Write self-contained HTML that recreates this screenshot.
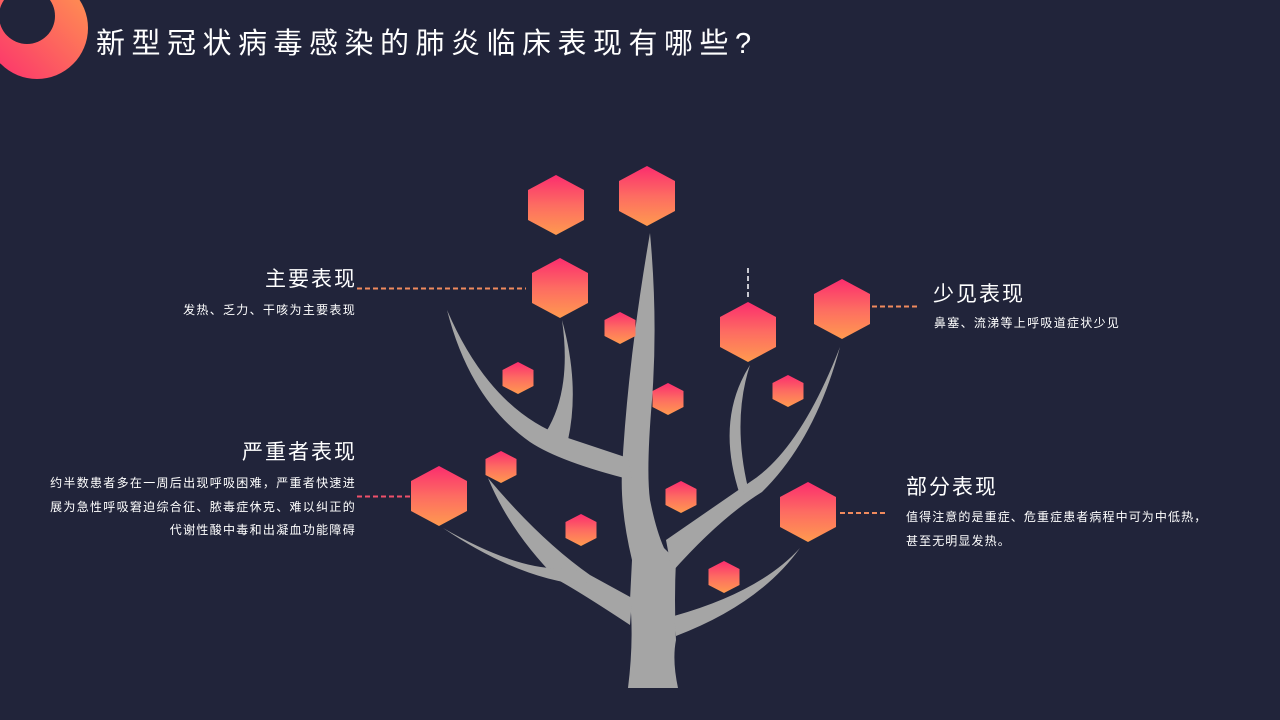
<!DOCTYPE html>
<html><head><meta charset="utf-8"><style>
html,body{margin:0;padding:0;background:#21243a;}
svg{display:block;}
text{font-family:"Liberation Sans","Noto Sans CJK SC",sans-serif;fill:#fff;}
</style></head><body>
<svg width="1280" height="720" viewBox="0 0 1280 720" xmlns="http://www.w3.org/2000/svg">
<defs>
<linearGradient id="hg" x1="0" y1="0" x2="0" y2="1">
<stop offset="0" stop-color="#fb2d6e"/><stop offset="0.5" stop-color="#fd6c62"/><stop offset="1" stop-color="#ff9a4f"/></linearGradient>
<linearGradient id="rg" x1="0" y1="1" x2="1" y2="0">
<stop offset="0" stop-color="#fb2d6e"/><stop offset="1" stop-color="#ff9a4f"/></linearGradient>
<polygon id="hb" points="0,-30 28,-15 28,15 0,30 -28,15 -28,-15"/>
<polygon id="hs" points="0,-16 15.5,-8 15.5,8 0,16 -15.5,8 -15.5,-8"/>
</defs>
<rect width="1280" height="720" fill="#21243a"/>
<circle cx="37" cy="28" r="51" fill="url(#rg)"/>
<circle cx="27" cy="16" r="28" fill="#21243a"/>
<text x="96" y="53" font-size="29" letter-spacing="6.5">新型冠状病毒感染的肺炎临床表现有哪些?</text>

<g fill="#a5a5a5">
<path d="M628,688 Q634,640 630,600 L632,560 Q620,510 622,470 Q628,360 650,233 Q658,320 652,400 Q646,470 650,500 Q656,530 664,548 L676,560 Q674,600 676,640 Q672,660 678,688Z"/>
<path d="M447,310 Q490,410 565,437 L628,458 L632,480 Q560,462 530,442 Q470,400 447,310Z"/>
<path d="M562,320 Q580,385 568,440 L546,432 Q572,390 562,320Z"/>
<path d="M840,347 Q800,450 750,482 L666,540 L672,572 Q720,518 762,492 Q815,440 840,347Z"/>
<path d="M750,365 Q715,420 740,495 L748,488 Q732,420 750,365Z"/>
<path d="M488,478 Q540,540 590,575 L632,598 L630,625 Q580,592 558,580 Q510,532 488,478Z"/>
<path d="M443,528 Q520,572 566,568 L588,574 L586,585 Q520,580 443,528Z"/>
<path d="M800,548 Q760,592 674,616 L676,636 Q760,604 800,548Z"/>
</g>

<g fill="url(#hg)">
<use href="#hb" x="556" y="205"/>
<use href="#hb" x="647" y="196"/>
<use href="#hb" x="560" y="288"/>
<use href="#hb" x="748" y="332"/>
<use href="#hb" x="842" y="309"/>
<use href="#hb" x="439" y="496"/>
<use href="#hb" x="808" y="512"/>
<use href="#hs" x="620" y="328"/>
<use href="#hs" x="518" y="378"/>
<use href="#hs" x="668" y="399"/>
<use href="#hs" x="788" y="391"/>
<use href="#hs" x="501" y="467"/>
<use href="#hs" x="581" y="530"/>
<use href="#hs" x="681" y="497"/>
<use href="#hs" x="724" y="577"/>
</g>

<g stroke-width="2" stroke-dasharray="5,3" fill="none">
<line x1="357" y1="288.5" x2="526" y2="288.5" stroke="#f08a5d"/>
<line x1="357" y1="496.5" x2="413" y2="496.5" stroke="#f0506a"/>
<line x1="872" y1="306.5" x2="918" y2="306.5" stroke="#f08a5d"/>
<line x1="840" y1="513" x2="886" y2="513" stroke="#f08a5d"/>
<line x1="748" y1="268" x2="748" y2="300" stroke="#c8c8d0"/>
</g>

<g text-anchor="end">
<text x="357" y="286" font-size="21" letter-spacing="2">主要表现</text>
<text x="356" y="314" font-size="12" letter-spacing="1.3">发热、乏力、干咳为主要表现</text>
<text x="357" y="459" font-size="21" letter-spacing="2">严重者表现</text>
<text x="356" y="487" font-size="12" letter-spacing="1.3">约半数患者多在一周后出现呼吸困难，严重者快速进</text>
<text x="356" y="511" font-size="12" letter-spacing="1.3">展为急性呼吸窘迫综合征、脓毒症休克、难以纠正的</text>
<text x="356" y="534" font-size="12" letter-spacing="1.3">代谢性酸中毒和出凝血功能障碍</text>
</g>
<text x="933" y="301" font-size="21" letter-spacing="2">少见表现</text>
<text x="934" y="327" font-size="12" letter-spacing="1.3">鼻塞、流涕等上呼吸道症状少见</text>
<text x="906" y="494" font-size="21" letter-spacing="2">部分表现</text>
<text x="906" y="521" font-size="12" letter-spacing="1.1">值得注意的是重症、危重症患者病程中可为中低热，</text>
<text x="906" y="545" font-size="12" letter-spacing="1.1">甚至无明显发热。</text>
</svg>
</body></html>
